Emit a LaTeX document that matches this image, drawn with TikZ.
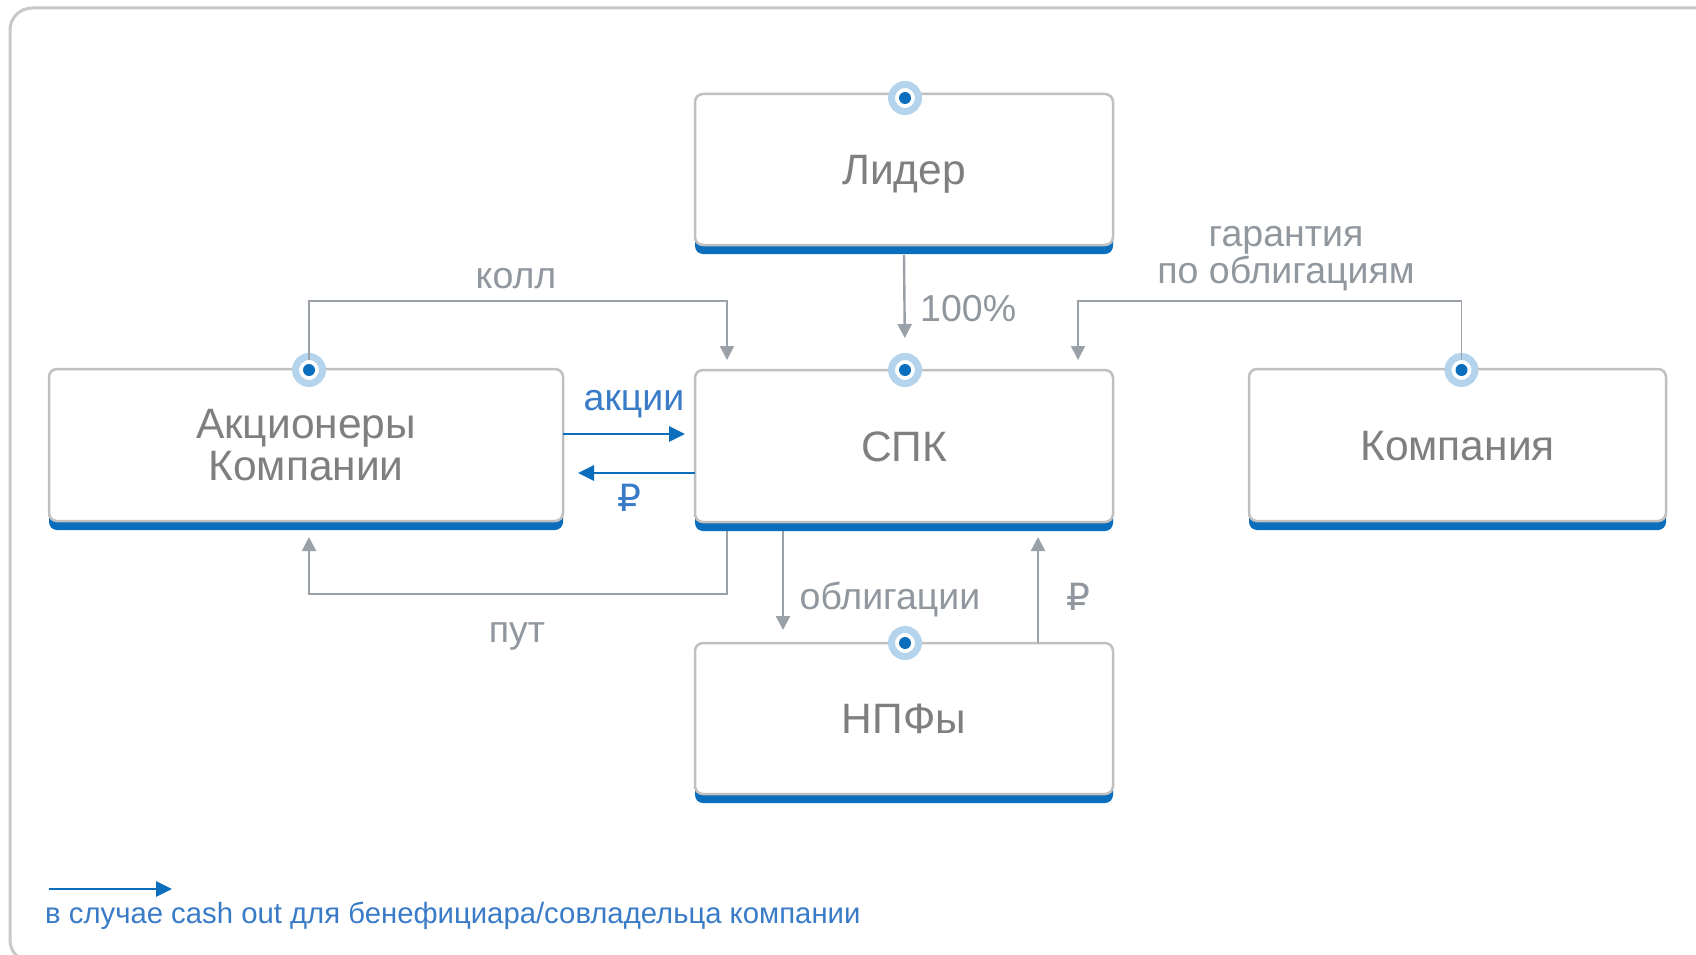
\documentclass[tikz,border=0pt]{standalone}
\usepackage{fontspec}
\setmainfont{Liberation Sans}
\newfontfamily\rubfont{DejaVu Sans}
\usetikzlibrary{arrows.meta,shadows,calc}
\definecolor{framegray}{HTML}{C8C8C8}
\definecolor{boxgray}{HTML}{C0C0C0}
\definecolor{barblue}{HTML}{0A6EBD}
\definecolor{txtgray}{HTML}{7F7F7F}
\definecolor{lblgray}{HTML}{90979E}
\definecolor{linegray}{HTML}{9AA1A8}
\definecolor{txtblue}{HTML}{3A7BC8}
\definecolor{dotlight}{HTML}{B3D4EC}
\begin{document}
\begin{tikzpicture}[x=1pt,y=-1pt,
  box/.style={draw=boxgray, line width=2.5pt, fill=white, rounded corners=8pt,
    inner sep=0pt, outer sep=0pt, text=txtgray, font=\fontsize{42.5}{48}\selectfont,
    drop shadow={shadow xshift=0pt, shadow yshift=-9pt, fill=barblue, opacity=1}},
  oneline/.style={text height=30.5pt, text depth=0pt},
  dotnode/.style={circle, fill=white, draw=dotlight, line width=7pt, minimum size=27pt,
    inner sep=0pt, outer sep=-3.5pt,
    path picture={\fill[barblue] (path picture bounding box.center) circle (6pt);}},
  garrow/.style={draw=linegray, line width=2.4pt, -{Triangle[length=14pt,width=14pt]}},
  gthin/.style={draw=linegray, line width=1.6pt, -{Triangle[length=14pt,width=14pt]}},
  barrow/.style={draw=barblue, line width=2.8pt, -{Triangle[length=16pt,width=15pt]}},
  lbl/.style={text=lblgray, font=\fontsize{37.5}{42}\selectfont, inner sep=0pt},
  blbl/.style={text=txtblue, font=\fontsize{37.5}{42}\selectfont, inner sep=0pt}
]
\useasboundingbox (0,0) rectangle (1696,955);
\fill[white] (0,0) rectangle (1696,955);
\draw[framegray, line width=3pt, rounded corners=22pt] (10,8) rectangle (1720,962);

% boxes
\node[box, oneline, minimum width=418pt, minimum height=151pt] (lider) at (904,169.5) {Лидер};
\node[box, minimum width=514pt, minimum height=152pt, align=center,
  font=\fontsize{42.5}{42}\selectfont] (akc) at (306,445) {Акционеры\\Компании};
\node[box, oneline, minimum width=418pt, minimum height=152pt] (spk) at (904,446) {СПК};
\node[box, oneline, minimum width=417pt, minimum height=152pt] (komp) at (1457.5,445) {Компания};
\node[box, oneline, minimum width=418pt, minimum height=151pt] (npf) at (904,718.5) {НПФы};

% dots
\node[dotnode] (dL) at ($(lider.north)+(1,4)$) {};
\node[dotnode] (dA) at ($(akc.north)+(3,1)$) {};
\node[dotnode] (dS) at ($(spk.north)+(1,0)$) {};
\node[dotnode] (dK) at ($(komp.north)+(4,1)$) {};
\node[dotnode] (dN) at ($(npf.north)+(1,0)$) {};

% connectors
\draw[gthin, shorten >=10pt] (dA.north) -- (dA.north |- 0,301) -| (spk.north -| 727,0);
\draw[gthin, shorten >=10pt] (dK.north) -- (dK.north |- 0,301) -| (spk.north -| 1078,0);
\draw[garrow, shorten >=22pt] ($(lider.south)+(0,10)$) -- (dS.north);
\draw[barrow, shorten >=10pt] (akc.east |- 0,434) -- (spk.west |- 0,434);
\draw[barrow, shorten >=15pt] (spk.west |- 0,473) -- (akc.east |- 0,473);
\draw[gthin, shorten >=16pt] ($(spk.south west)+(32,9)$) -- ++(0,63) -| (akc.south -| dA.center);
\draw[garrow, shorten >=13pt] ($(spk.south west)+(88,9)$) -- (npf.north -| 783,0);
\draw[garrow, shorten >=15pt] (npf.north -| 1038,0) -- (spk.south -| 1038,0);

% labels
\node[lbl, anchor=base] (tkoll) at (516,288) {колл};
\node[lbl, anchor=base west] (t100) at (920,321) {100\%};
\node[lbl, anchor=base] (tgar1) at (1286,246) {гарантия};
\node[lbl, anchor=base] (tgar2) at (1286,283) {по облигациям};
\node[blbl, anchor=base] (takc) at (634,410) {акции};
\node[blbl, anchor=base] (trub1) at (629,511) {\rubfont ₽};
\node[lbl, anchor=base] (tput) at (517,642) {пут};
\node[lbl, anchor=base] (tobl) at (890,609) {облигации};
\node[lbl, anchor=base] (trub2) at (1078,610) {\rubfont ₽};

% legend
\coordinate (lgA) at (49,889);
\coordinate (lgB) at (172,889);
\draw[barrow] (lgA) -- (lgB);
\node[text=txtblue, font=\fontsize{29.3}{34}\selectfont, inner sep=0pt, anchor=base west] (legend) at (45,923)
  {в случае cash out для бенефициара/совладельца компании};
\end{tikzpicture}
\end{document}
